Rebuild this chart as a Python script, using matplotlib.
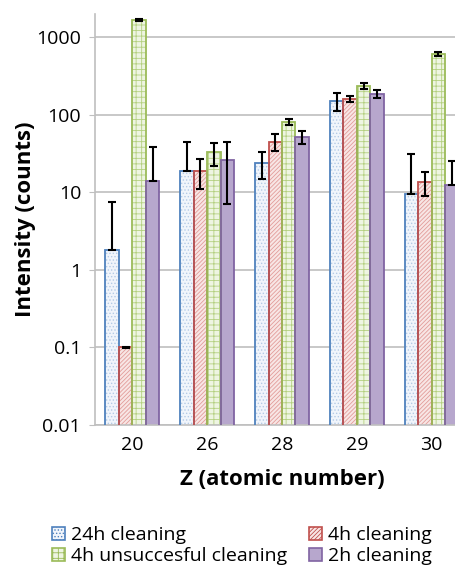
import matplotlib
matplotlib.use("Agg")
import matplotlib.pyplot as plt
import numpy as np
from matplotlib.patches import Patch

plt.rcParams['font.family'] = ['Open Sans', 'DejaVu Sans']
plt.rcParams['hatch.linewidth'] = 0.6

# data
z_labels = ["20", "26", "28", "29", "30"]
series = ["24h cleaning", "4h cleaning", "4h unsuccesful cleaning", "2h cleaning"]
val_24h = [1.8, 19, 24, 151, 9.5]
err_24h = [5.7, 26, 9, 38, 22]
val_4h = [0.1, 19, 45, 161, 13.6]
err_4h = [0.002, 8, 11, 16, 4.5]
val_4hu = [1680, 33, 81, 237, 612]
err_4hu = [60, 11, 8, 22, 30]
val_2h = [14, 26, 52, 187, 12.5]
err_2h = [25, 19, 10, 20, 13]

values = [val_24h, val_4h, val_4hu, val_2h]
errors = [err_24h, err_4h, err_4hu, err_2h]
edge_cols = ["#4f81bd", "#c0504d", "#9bbb59", "#8064a2"]
face_cols = ["#f1f5fb", "#f8e6e5", "#eef5e2", "#b7a7cd"]
hatch_cols = ["#b4cae6", "#e29c9a", "#b4d080", "#b7a7cd"]
hatches = [".....", "////////", "+++", None]

fig = plt.figure(figsize=(4.55, 5.69), dpi=100)
ax = fig.add_axes([95 / 455, 144 / 569, 374 / 455, 411 / 569])

x = np.arange(len(z_labels))
w = 0.18
for i in range(4):
    pos = x + (i - 1.5) * w
    v = np.array(values[i])
    e = np.array(errors[i])
    lower = np.where(e < v, e, 0)
    ax.bar(pos, v, w, color=face_cols[i], hatch=hatches[i],
           edgecolor=hatch_cols[i], linewidth=0, zorder=2)
    ax.bar(pos, v, w, fill=False, edgecolor=edge_cols[i], linewidth=1.3, zorder=3)
    ax.errorbar(pos, v, yerr=[lower, e], fmt="none", ecolor="black",
                elinewidth=1.5, capsize=3, capthick=1.5, zorder=4)

ax.set_yscale("log")
ax.set_ylim(0.01, 2000)
ax.set_xlim(-0.5, 4.5)
ax.set_yticks([0.01, 0.1, 1, 10, 100, 1000])
ax.set_yticklabels(["0.01", "0.1", "1", "10", "100", "1000"])
ax.minorticks_off()
ax.set_xticks(x)
ax.set_xticklabels(z_labels)
ax.tick_params(axis="y", length=4, color="#bfbfbf", labelsize=14, pad=6)
ax.tick_params(axis="x", length=0, labelsize=14, pad=8)
ax.grid(axis="y", color="#bfbfbf", linewidth=1.2, zorder=0)
ax.set_axisbelow(True)
for s in ["top", "right"]:
    ax.spines[s].set_visible(False)
for s in ["left", "bottom"]:
    ax.spines[s].set_color("#bfbfbf")
    ax.spines[s].set_linewidth(1.2)

ax.set_xlabel("Z (atomic number)", fontsize=16, fontweight="bold", labelpad=11)
ax.set_ylabel("Intensity (counts)", fontsize=16, fontweight="bold", labelpad=0)

# legend filled row by row like the original
order = [0, 2, 1, 3]
handles = [Patch(facecolor=face_cols[i], edgecolor=edge_cols[i], hatch=hatches[i],
                 linewidth=1.2) for i in order]
labels = [series[i] for i in order]
fig.legend(handles, labels, loc="lower left", bbox_to_anchor=(0.105, 0.0),
           ncol=2, frameon=False, fontsize=14, handlelength=0.7, handleheight=0.7,
           handletextpad=0.3, columnspacing=1.1, labelspacing=0.15,
           borderpad=0, borderaxespad=0.2)

fig.savefig("out.png", dpi=100)
